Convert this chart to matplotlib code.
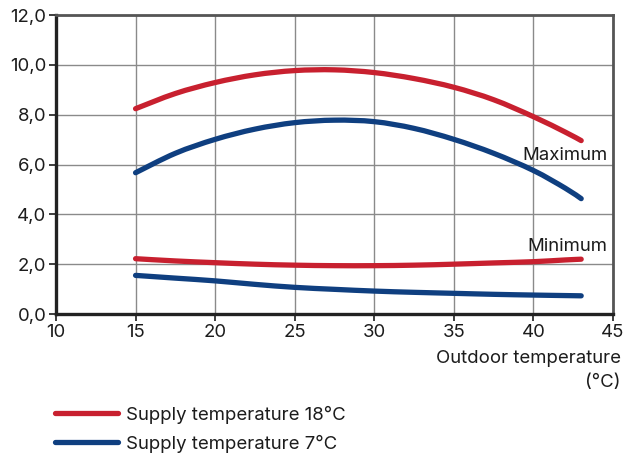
import matplotlib
matplotlib.use("Agg")
import matplotlib.pyplot as plt
from matplotlib.ticker import FuncFormatter
from matplotlib.path import Path
from matplotlib.patches import PathPatch
from matplotlib.lines import Line2D

# Outdoor temperature (x) and flow values
outdoor = [15, 17.5, 20, 22.5, 25, 27.5, 30, 32.5, 35, 37.5, 40, 42, 43]

max_18 = [8.24, 8.85, 9.29, 9.60, 9.77, 9.80, 9.69, 9.45, 9.10, 8.60, 7.92, 7.30, 6.96]
max_7 = [5.67, 6.45, 7.01, 7.42, 7.68, 7.78, 7.72, 7.45, 7.01, 6.45, 5.76, 5.05, 4.63]
min_18 = [2.22, 2.13, 2.06, 2.00, 1.96, 1.94, 1.94, 1.96, 2.00, 2.05, 2.10, 2.17, 2.20]
min_7 = [1.55, 1.44, 1.33, 1.19, 1.07, 0.99, 0.92, 0.87, 0.83, 0.79, 0.76, 0.74, 0.73]

x_ticks = [10, 15, 20, 25, 30, 35, 40, 45]
y_ticks = [0, 2, 4, 6, 8, 10, 12]

RED = "#c8202f"
BLUE = "#0f3f80"
TEXT = "#1c1c1c"
LW = 3.8
FS = 13.4


def smooth_curve(ax, xs, ys, color):
    # Catmull-Rom through the read points, drawn as cubic Bezier path
    pts = list(zip(xs, ys))
    verts = [pts[0]]
    codes = [Path.MOVETO]
    n = len(pts)
    for i in range(n - 1):
        p0 = pts[i - 1] if i > 0 else pts[i]
        p1 = pts[i]
        p2 = pts[i + 1]
        p3 = pts[i + 2] if i + 2 < n else pts[i + 1]
        c1 = (p1[0] + (p2[0] - p0[0]) / 6, p1[1] + (p2[1] - p0[1]) / 6)
        c2 = (p2[0] - (p3[0] - p1[0]) / 6, p2[1] - (p3[1] - p1[1]) / 6)
        verts += [c1, c2, p2]
        codes += [Path.CURVE4] * 3
    patch = PathPatch(Path(verts, codes), facecolor='none', edgecolor=color,
                      lw=LW, capstyle='round', joinstyle='round')
    ax.add_patch(patch)


plt.rcParams['font.family'] = ['Inter', 'DejaVu Sans']

fig = plt.figure(figsize=(6.27, 4.58), dpi=100)
ax = fig.add_axes([0.0893, 0.3144, 0.8884, 0.6528])

smooth_curve(ax, outdoor, max_18, RED)
smooth_curve(ax, outdoor, max_7, BLUE)
smooth_curve(ax, outdoor, min_18, RED)
smooth_curve(ax, outdoor, min_7, BLUE)

ax.set_xlim(10, 45)
ax.set_ylim(0, 12)
ax.set_xticks(x_ticks)
ax.set_yticks(y_ticks)
ax.yaxis.set_major_formatter(FuncFormatter(lambda v, p: f"{v:.1f}".replace('.', ',')))
ax.grid(True, color='#8a8a8a', lw=1.0)
ax.set_axisbelow(True)

ax.tick_params(labelsize=FS, colors=TEXT, length=5, width=1.2, pad=2)
for side in ['left', 'bottom']:
    ax.spines[side].set_linewidth(2.4)
    ax.spines[side].set_color('#222222')
for side in ['top', 'right']:
    ax.spines[side].set_linewidth(2.0)
    ax.spines[side].set_color('#555555')

ax.text(44.65, 6.35, 'Maximum', ha='right', va='center', fontsize=FS, color=TEXT)
ax.text(44.65, 2.72, 'Minimum', ha='right', va='center', fontsize=FS, color=TEXT)

fig.text(0.99, 0.218, 'Outdoor temperature', ha='right', va='center', fontsize=FS, color=TEXT)
fig.text(0.99, 0.164, '(°C)', ha='right', va='center', fontsize=FS, color=TEXT)

handles = [Line2D([], [], color=RED, lw=LW, solid_capstyle='round'),
           Line2D([], [], color=BLUE, lw=LW, solid_capstyle='round')]
labels = ['Supply temperature 18°C', 'Supply temperature 7°C']
fig.legend(handles, labels, loc='upper left', bbox_to_anchor=(0.088, 0.114), frameon=False,
           fontsize=FS, handlelength=3.4, handletextpad=0.4, labelspacing=0.58,
           borderaxespad=0, borderpad=0, labelcolor=TEXT)

fig.savefig('out.png', dpi=100)
